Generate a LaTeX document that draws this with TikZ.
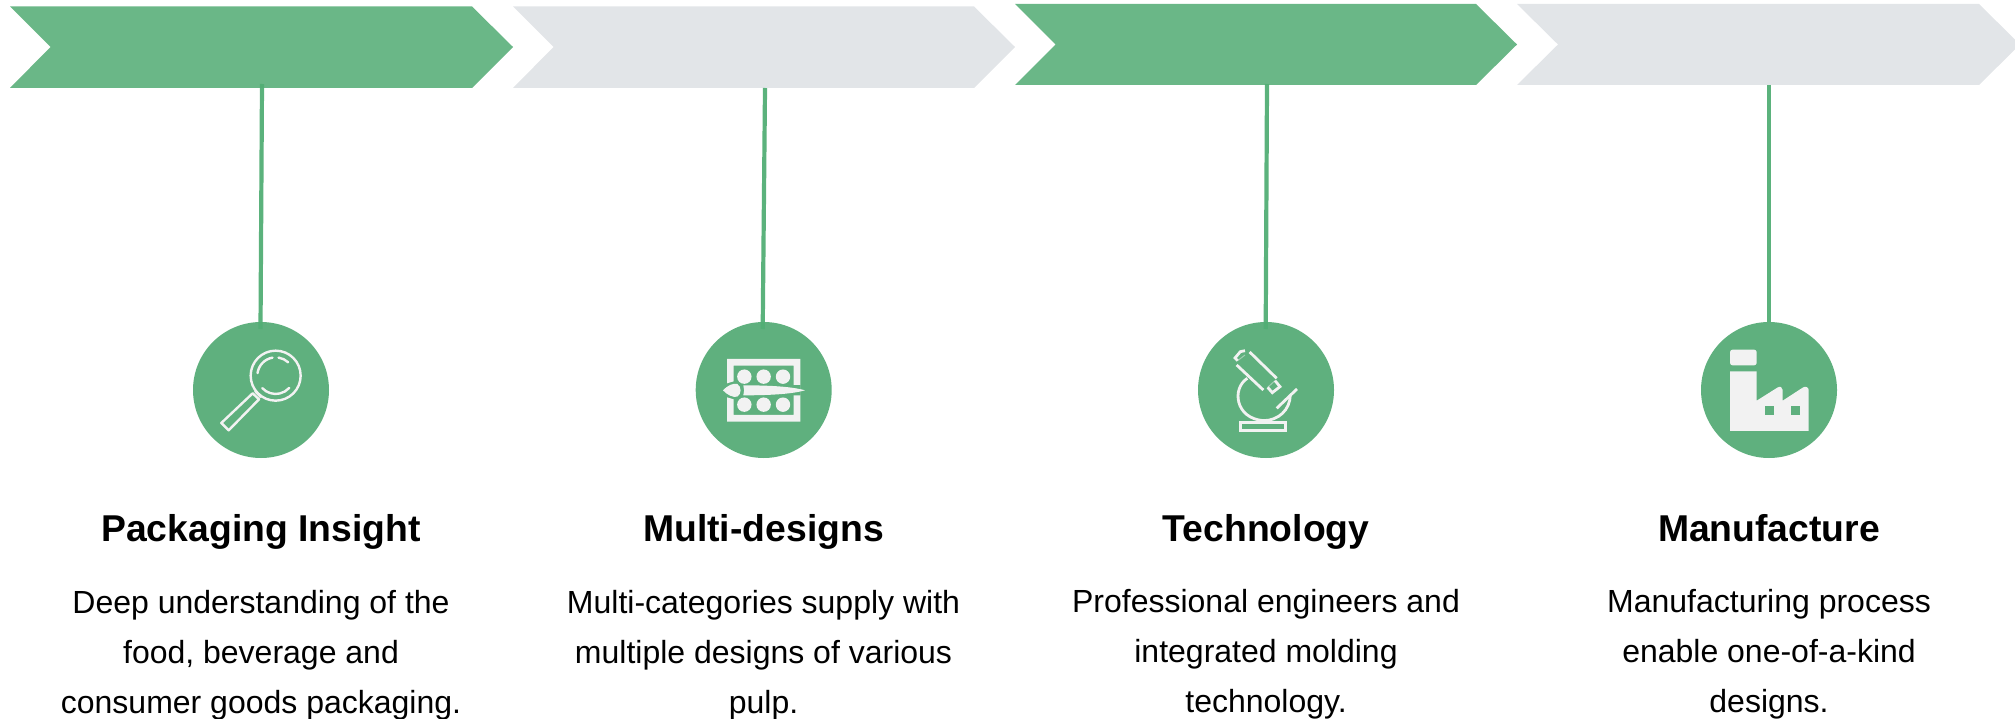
\documentclass[tikz,border=0pt]{standalone}
\usepackage{fontspec}
\setmainfont{Liberation Sans}
\definecolor{chevgreen}{HTML}{6AB787}
\definecolor{chevgrey}{HTML}{E2E5E8}
\definecolor{circgreen}{HTML}{5FB07E}
\definecolor{linegreen}{HTML}{52AE75}
\definecolor{iconwhite}{HTML}{F2F2F2}
\tikzset{
  x=1pt,y=-1pt,
  chevg/.style={fill=chevgreen,draw=none},
  chevy/.style={fill=chevgrey,draw=none},
  stem/.style={draw=linegreen,line width=4.2pt,opacity=.95},
  disc/.style={circle,fill=circgreen,draw=none,minimum size=136pt,inner sep=0pt},
  titletext/.style={font=\fontsize{37.33}{37.33}\selectfont\bfseries,anchor=base,inner sep=0pt,text=black},
  bodytext/.style={font=\fontsize{32}{32}\selectfont,anchor=base,inner sep=0pt,text=black},
  ic/.style={draw=iconwhite,line width=2.4pt,fill=none},
  icthick/.style={draw=iconwhite,line width=2.8pt,fill=none},
  icfaint/.style={draw=iconwhite,line width=1pt,opacity=.45,fill=none},
  icf/.style={fill=iconwhite,draw=none},
}
\begin{document}
\begin{tikzpicture}
\useasboundingbox (0,0) rectangle (2015,719);
\clip (0,0) rectangle (2015,719);
% chevrons
\fill[chevg] (10,6.5) -- (472,6.5) -- (513,47) -- (472,88) -- (10,88) -- (50.5,47) -- cycle;
\fill[chevy] (513,6.5) -- (974,6.5) -- (1015,47) -- (974,88) -- (513,88) -- (553.5,47) -- cycle;
\fill[chevg] (1015,4) -- (1476,4) -- (1517,44.5) -- (1476,85) -- (1015,85) -- (1055.5,44.5) -- cycle;
\fill[chevy] (1517,4) -- (1979,4) -- (2020,44.5) -- (1979,85) -- (1517,85) -- (1558,44.5) -- cycle;
% discs
\node[disc] (d1) at (261,390) {};
\node[disc] (d2) at (763.7,390) {};
\node[disc] (d3) at (1266,390) {};
\node[disc] (d4) at (1769,390) {};
% stems
\coordinate (s1) at (262,84);
\coordinate (e1) at (260.5,329);
\coordinate (s2) at (765,88);
\coordinate (e2) at (762.7,329);
\coordinate (s3) at (1267,84);
\coordinate (e3) at (1265.7,329);
\coordinate (s4) at (1769,85);
\coordinate (e4) at (1769,322);
\draw[stem] (s1) -- (e1);
\draw[stem] (s2) -- (e2);
\draw[stem] (s3) -- (e3);
\draw[stem] (s4) -- (e4);
% magnifier
\begin{scope}[shift={(180,310)},x=0.3333pt,y=-0.3333pt]
\coordinate (lens) at (287,197);
\draw[ic] (lens) circle[radius=25pt];
\draw[ic,line cap=round] ([shift={(172:18.3pt)}]lens) arc[start angle=172,end angle=100,radius=18.3pt];
\draw[ic,line cap=round] ([shift={(81:18.3pt)}]lens) arc[start angle=81,end angle=47,radius=18.3pt];
\draw[ic,line cap=round] ([shift={(223:18.3pt)}]lens) arc[start angle=223,end angle=318,radius=18.3pt];
\draw[ic,line join=round] (218,250) -- (237,268) -- (146,361) -- (124,339) -- cycle;
\draw[ic] (225,243) -- (243,262);
\end{scope}
% palette
\begin{scope}[shift={(680,310)},x=0.3333pt,y=-0.3333pt]
\fill[icf] (141,147) -- (361,147) -- (361,335) -- (141,335) -- (141,262) -- (161,268) -- (161,315) -- (341,315) -- (341,256) -- (361,256) -- (361,225) -- (341,225) -- (341,167) -- (161,167) -- (161,214) -- (141,220) -- cycle;
\foreach \cx in {193,251,309}{
  \fill[icf] (\cx,200) circle[radius=7.2pt];
  \fill[icf] (\cx,284) circle[radius=7.2pt];
}
\fill[icf] (129,241) .. controls (140,228) and (160,218) .. (172,222) .. controls (185,230) and (185,252) .. (172,260) .. controls (160,264) and (140,254) .. (129,241) -- cycle;
\fill[icf] (190,226) .. controls (250,226) and (330,228) .. (375,241) .. controls (330,254) and (250,256) .. (190,256) .. controls (193,246) and (193,236) .. (190,226) -- cycle;
\end{scope}
% microscope
\begin{scope}[shift={(1185,310)},x=0.3333pt,y=-0.3333pt]
\draw[icthick] (180,122) -- (166,125) -- (150,144) -- (158,152);
\draw[icfaint] (158,152) -- (180,135);
\draw[icthick] (194,126) -- (275,205);
\draw[icthick] (155,165) -- (235,240);
\draw[icthick] (248,232) -- (262,248) -- (285,230) -- (270,212);
\draw[icfaint] (248,232) -- (270,212);
\draw[icthick] (187,205) .. controls (140,235) and (150,325) .. (235,332) .. controls (280,332) and (315,300) .. (316,255);
\draw[icthick] (275,295) -- (336,237);
\draw[icthick] (167,337) rectangle (301,361);
\end{scope}
% factory
\begin{scope}[shift={(1690,310)},x=0.3333pt,y=-0.3333pt]
\fill[icf,rounded corners=2.5pt] (120,166) -- (120,119) -- (200,119) -- (200,166) -- cycle;
\fill[icf] (120,184) -- (200,184) -- (200,272) -- (262,233) .. controls (270,227) and (278,232) .. (278,240) -- (278,272) -- (338,233) .. controls (346,227) and (356,232) .. (356,240) -- (356,363) -- (120,363) -- cycle;
\fill[circgreen] (226,289) rectangle (253,316);
\fill[circgreen] (302,289) rectangle (329,316);
\end{scope}
% titles
\node[titletext] (t1) at (261,541) {Packaging Insight};
\node[titletext] (t2) at (763.5,541) {Multi-designs};
\node[titletext] (t3) at (1266,541) {Technology};
\node[titletext] (t4) at (1769,541) {Manufacture};
% bodies
\node[bodytext] (a1) at (261,613) {Deep understanding of the};
\node[bodytext] (a2) at (261,663) {food, beverage and};
\node[bodytext] (a3) at (261,713.5) {consumer goods packaging.};
\node[bodytext] (b1) at (763.5,613) {Multi-categories supply with};
\node[bodytext] (b2) at (763.5,663) {multiple designs of various};
\node[bodytext] (b3) at (763.5,713.5) {pulp.};
\node[bodytext] (c1) at (1266,612) {Professional engineers and};
\node[bodytext] (c2) at (1266,662) {integrated molding};
\node[bodytext] (c3) at (1266,712) {technology.};
\node[bodytext] (e1t) at (1769,612) {Manufacturing process};
\node[bodytext] (e2t) at (1769,662) {enable one-of-a-kind};
\node[bodytext] (e3t) at (1769,712) {designs.};
\end{tikzpicture}
\end{document}
